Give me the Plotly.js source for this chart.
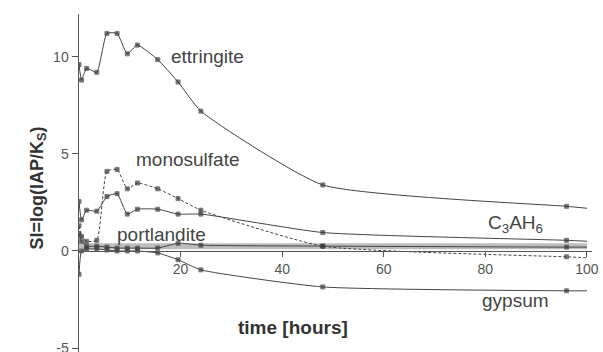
<!DOCTYPE html>
<html><head><meta charset="utf-8">
<script src="https://cdn.plot.ly/plotly-3.0.1.min.js"></script>
<style>html,body{margin:0;padding:0;background:#fff}#chart{width:603px;height:352px}</style>
</head><body><div id="chart"></div>
<script>
// time in hours
const times = [0, 0.5, 1.5, 3.5, 5.5, 7.5, 9.5, 11.5, 15.5, 19.5, 24, 48, 96, 100];
const ettringite  = [9.6, 8.8, 9.4, 9.2, 11.2, 11.2, 10.15, 10.6, 9.85, 8.7, 7.2, 3.4, 2.3, 2.2];
const monosulfate = [1.3, 0.75, 0.5, 0.55, 4.1, 4.2, 3.2, 3.5, 3.2, 2.7, 2.1, 0.25, -0.3, -0.35];
const c3ah6       = [2.55, 1.6, 2.1, 2.05, 2.8, 2.95, 1.9, 2.15, 2.15, 1.9, 1.9, 0.95, 0.55, 0.5];
const portlandite = [0.9, 0.5, 0.25, 0.25, 0.2, 0.15, 0.15, 0.15, 0.15, 0.4, 0.3, 0.25, 0.2, 0.2];
const gypsum      = [-1.2, 0.0, 0.1, 0.1, 0.05, 0.0, 0.0, 0.0, -0.1, -0.45, -0.97, -1.85, -2.05, -2.05];
const bandTimes = [0, 100];
const bandValues = [0.25, 0.25];
const xTicks = [20, 40, 60, 80, 100];
const yTicks = [-5, 0, 5, 10];

const msize = times.map(t => t >= 100 ? 0 : 4);
function series(y, dash) {
  return {x: times, y: y, mode: 'lines+markers', type: 'scatter',
    line: {color: '#444', width: 1, shape: 'spline', smoothing: 0.5, dash: dash || 'solid'},
    marker: {symbol: 'square', size: msize, color: '#333'}, hoverinfo: 'skip'};
}
const data = [
  {x: bandTimes, y: bandValues, mode: 'lines', type: 'scatter', line: {color: '#bdbdbd', width: 6}, hoverinfo: 'skip'},
  series(ettringite),
  series(monosulfate, '3px,2px'),
  series(c3ah6),
  series(portlandite),
  series(gypsum)
];
const yr = [-5.2, 12.2];
const lblFont = {family: 'Liberation Sans, Arial, sans-serif', size: 19, color: '#444'};
const tickFont = {family: 'Liberation Sans, Arial, sans-serif', size: 14, color: '#555'};
const layout = {
  width: 603, height: 352,
  margin: {l: 79, r: 11, t: 14, b: 0},
  paper_bgcolor: '#fff', plot_bgcolor: '#fff',
  showlegend: false,
  xaxis: {range: [0, 101], anchor: 'free', position: (0 - yr[0]) / (yr[1] - yr[0]),
    tickvals: xTicks, ticks: 'outside', ticklen: 5, tickcolor: '#555',
    showline: true, linecolor: '#555', linewidth: 1.5, showgrid: false, zeroline: false,
    tickfont: tickFont},
  yaxis: {range: yr, tickvals: yTicks, ticktext: ['-5', '0', '5', '10'],
    ticks: 'outside', ticklen: 6, tickcolor: '#555', ticklabeloverflow: 'allow',
    showline: true, linecolor: '#555', linewidth: 1.5, showgrid: false, zeroline: false,
    tickfont: tickFont},
  annotations: [
    {text: 'ettringite', x: 25.3, y: 10.0, xref: 'x', yref: 'y', showarrow: false, font: lblFont},
    {text: 'monosulfate', x: 21.5, y: 4.7, xref: 'x', yref: 'y', showarrow: false, font: lblFont},
    {text: 'portlandite', x: 16.3, y: 0.85, xref: 'x', yref: 'y', showarrow: false, font: lblFont},
    {text: 'C<sub>3</sub>AH<sub>6</sub>', x: 86, y: 1.4, xref: 'x', yref: 'y', showarrow: false, font: lblFont},
    {text: 'gypsum', x: 86, y: -2.55, xref: 'x', yref: 'y', showarrow: false, font: lblFont},
    {text: '<b>time [hours]</b>', showarrow: false,
      font: {family: 'Liberation Sans, Arial, sans-serif', size: 19, color: '#333'}},
    {text: '<b>SI=log(IAP/K<sub>S</sub>)</b>', showarrow: false, textangle: -90,
      font: {family: 'Liberation Sans, Arial, sans-serif', size: 18, color: '#333'}}
  ]
};
// pixel-positioned titles converted to paper coordinates
const pw = 603 - 79 - 11, ph = 352 - 14 - 0;
Object.assign(layout.annotations[5], {xref: 'paper', yref: 'paper', x: (293 - 79) / pw, y: 1 - (340 - 14) / ph});
Object.assign(layout.annotations[6], {xref: 'paper', yref: 'paper', x: (24 - 79) / pw, y: 1 - (188 - 14) / ph});
Plotly.newPlot('chart', data, layout, {staticPlot: true});
</script></body></html>
